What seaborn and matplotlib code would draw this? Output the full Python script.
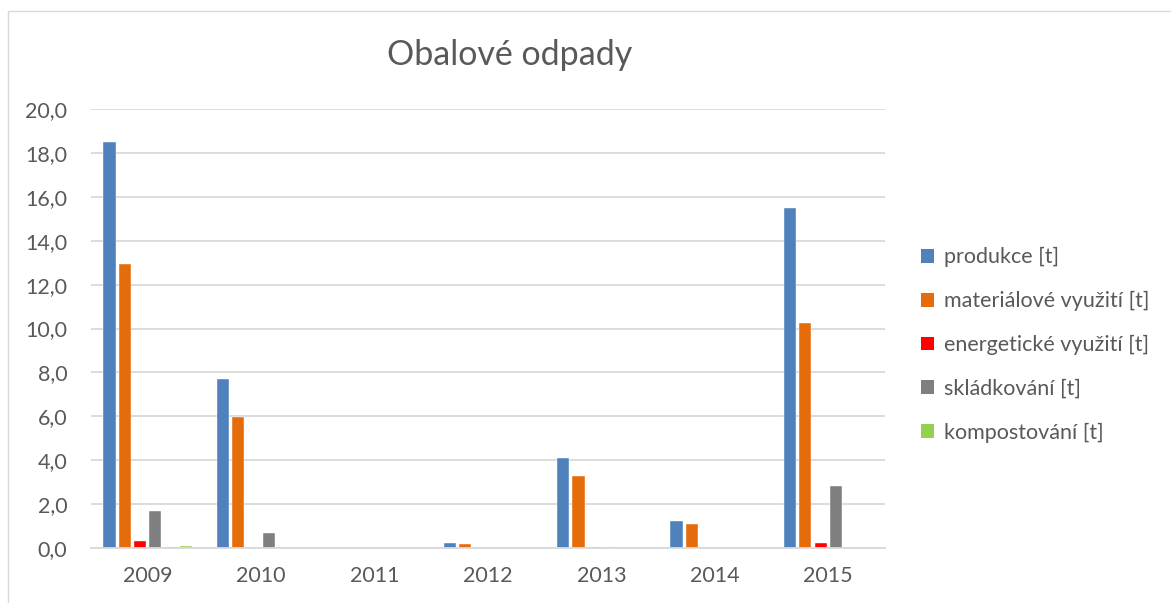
import matplotlib
matplotlib.use("Agg")
import matplotlib.pyplot as plt
import matplotlib.patches as mpatches
import seaborn as sns
import pandas as pd
from matplotlib.ticker import FuncFormatter

years = ["2009", "2010", "2011", "2012", "2013", "2014", "2015"]
series_names = ["produkce [t]", "materiálové využití [t]", "energetické využití [t]",
                "skládkování [t]", "ostatní [t]", "kompostování [t]"]
produkce = [18.5, 7.7, 0.0, 0.23, 4.1, 1.22, 15.5]
materialove = [12.95, 5.97, 0.0, 0.17, 3.28, 1.08, 10.25]
energeticke = [0.3, 0.02, 0.0, 0.02, 0.03, 0.02, 0.21]
skladkovani = [1.67, 0.67, 0.0, 0.02, 0.03, 0.02, 2.81]
ostatni = [0.05, 0.0, 0.0, 0.0, 0.0, 0.0, 0.0]
kompostovani = [0.08, 0.02, 0.0, 0.0, 0.0, 0.0, 0.0]
colors = ["#4F81BD", "#E46C0A", "#FF0000", "#7F7F7F", "#404040", "#92D050"]
legend_series = [0, 1, 2, 3, 5]

values = [produkce, materialove, energeticke, skladkovani, ostatni, kompostovani]
rows = []
for name, vals in zip(series_names, values):
    for y, v in zip(years, vals):
        rows.append({"rok": y, "série": name, "hodnota": v})
df = pd.DataFrame(rows)

sns.set_theme(style="white")
plt.rcParams["font.family"] = ["Lato", "DejaVu Sans"]

fig = plt.figure(figsize=(11.71, 6.03), dpi=100)
ax = fig.add_axes([91 / 1171, 55 / 603, (885 - 91) / 1171, (548 - 109) / 603])

sns.barplot(data=df, x="rok", y="hodnota", hue="série", hue_order=series_names,
            palette=colors, saturation=1, width=0.81, gap=0.2, edgecolor="white",
            linewidth=0.3, ax=ax, legend=False, errorbar=None)

ax.set_xlim(-0.5, 6.5)
ax.set_ylim(0, 20)
ax.set_yticks(range(0, 21, 2))
ax.yaxis.set_major_formatter(FuncFormatter(lambda v, p: f"{v:.1f}".replace(".", ",")))
ax.grid(axis="y", color="#D9D9D9", linewidth=1.3)
ax.set_axisbelow(True)
for s in ["top", "right", "left"]:
    ax.spines[s].set_visible(False)
ax.spines["bottom"].set_color("#D9D9D9")
ax.spines["bottom"].set_linewidth(1.3)
ax.tick_params(axis="both", length=0, labelsize=15.5, labelcolor="#595959")
ax.tick_params(axis="x", pad=13)
ax.tick_params(axis="y", pad=17)
ax.set_xlabel("")
ax.set_ylabel("")

fig.text(510 / 1171, 1 - 55 / 603, "Obalové odpady", ha="center", va="center",
         fontsize=24.5, color="#595959")

handles = [mpatches.Patch(facecolor=colors[i], edgecolor="none", label=series_names[i])
           for i in legend_series]
fig.legend(handles=handles, loc="center left", bbox_to_anchor=(902 / 1171, 1 - 345 / 603),
           frameon=False, fontsize=15.5, labelcolor="#595959", handlelength=0.6,
           handleheight=0.6, handletextpad=0.45, labelspacing=1.1)

border = mpatches.Rectangle((8 / 1171, -0.05), 1.2, 1 - 11 / 603 + 0.05,
                            transform=fig.transFigure, fill=False,
                            edgecolor="#D9D9D9", linewidth=1)
fig.patches.append(border)

fig.savefig("out.png", dpi=100)
